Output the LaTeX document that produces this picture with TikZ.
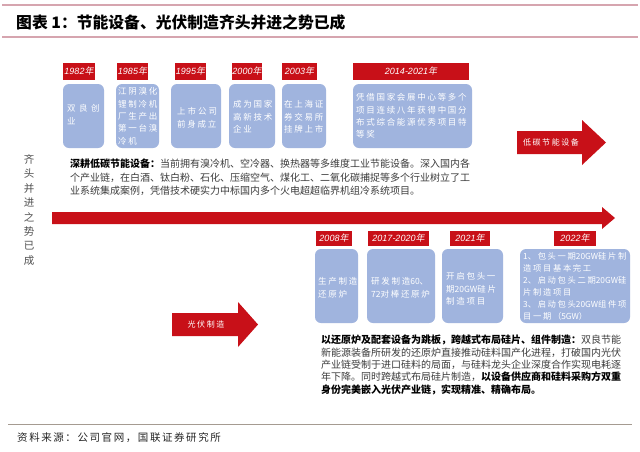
\documentclass[tikz,border=0pt]{standalone}
\usepackage{fontspec}
\setmainfont{Liberation Sans}
\newfontfamily\cjk{Noto Sans CJK SC}
\newfontfamily\cjkw[LetterSpace=20]{Noto Sans CJK SC}
\newfontfamily\cjks[LetterSpace=15]{Noto Sans CJK SC}
\newfontfamily\cjksl[FakeSlant=0.2]{Noto Sans CJK SC}
\newcommand\nospc[1]{{\addfontfeature{LetterSpace=0}#1}}
\newcommand\nianzi{{\cjksl 年}}
\definecolor{myred}{RGB}{200,16,24}
\definecolor{boxblue}{RGB}{160,180,222}
\definecolor{pinkline}{RGB}{214,165,175}
\definecolor{txtgrey}{RGB}{60,60,60}
\definecolor{sidegrey}{RGB}{80,80,80}
\definecolor{footline}{RGB}{165,155,145}
\tikzset{
  yearlab/.style={fill=myred, text=white, inner sep=0pt, font=\fontsize{9}{10}\selectfont\itshape},
  bluebox/.style={fill=boxblue, rounded corners=6pt, inner sep=0pt, draw=none},
  boxtxt/.style={text=white, align=left, inner sep=0pt, anchor=north west, font=\cjkw\fontsize{8.5}{12.3}\selectfont},
  arrowtxt/.style={text=white, inner sep=0pt, font=\cjkw\fontsize{8}{9}\selectfont},
  bodytxt/.style={text=txtgrey, align=left, inner sep=0pt, anchor=north west},
}
\begin{document}
\begin{tikzpicture}[x=1pt,y=-1pt]
\fill[white] (0,0) rectangle (640,451);
\useasboundingbox (0,0) rectangle (640,451);
% header and footer rules
\draw[pinkline, line width=1.2pt] (2,5) -- (638,5);
\draw[pinkline, line width=2pt] (2,37) -- (638,37);
\draw[footline, line width=1pt] (8,424) -- (632,424);
\node[anchor=west, inner sep=0pt, font=\cjk\bfseries\fontsize{15.8}{18}\selectfont] (title) at (16,22) {图表 1：节能设备、光伏制造齐头并进之势已成};
\node[anchor=west, inner sep=0pt, text=black!85, font=\cjks\fontsize{10.5}{12}\selectfont] (source) at (17,438) {资料来源：公司官网，国联证券研究所};
% side text
\node[align=center, inner sep=0pt, text=sidegrey, font=\cjk\fontsize{10.5}{14.4}\selectfont] (side) at (29,210) {齐\\头\\并\\进\\之\\势\\已\\成};
% top year labels
\node[yearlab, minimum width=32pt, minimum height=17pt] (y1) at (79,71.5) {1982\nianzi};
\node[yearlab, minimum width=31pt, minimum height=17pt] (y2) at (132.5,71.5) {1985\nianzi};
\node[yearlab, minimum width=31pt, minimum height=17pt] (y3) at (190.5,71.5) {1995\nianzi};
\node[yearlab, minimum width=30pt, minimum height=17pt] (y4) at (247,71.5) {2000\nianzi};
\node[yearlab, minimum width=35pt, minimum height=17pt] (y5) at (299.5,71.5) {2003\nianzi};
\node[yearlab, minimum width=116pt, minimum height=17pt] (y6) at (411,71.5) {2014-2021\nianzi};
% top boxes
\node[bluebox, minimum width=41pt, minimum height=64pt] (b1) at (83.5,116) {};
\node[bluebox, minimum width=43pt, minimum height=64pt] (b2) at (137.5,116) {};
\node[bluebox, minimum width=50pt, minimum height=64pt] (b3) at (196,116) {};
\node[bluebox, minimum width=46pt, minimum height=64pt] (b4) at (252,116) {};
\node[bluebox, minimum width=44pt, minimum height=64pt] (b5) at (304,116) {};
\node[bluebox, minimum width=119pt, minimum height=64pt] (b6) at (412.5,116) {};
\node[boxtxt] (t1) at (67,104.5) {双\hspace{3.5pt}良\hspace{3.5pt}创\\业};
\node[boxtxt] (t2) at (118,87.5) {江阴溴化\\锂制冷机\\厂生产出\\第一台溴\\冷机};
\node[boxtxt] (t3) at (177,107.5) {上\hspace{2pt}市\hspace{2pt}公\hspace{2pt}司\\前身成立};
\node[boxtxt] (t4) at (233,100.5) {成为国家\\高新技术\\企业};
\node[boxtxt] (t5) at (284,100.5) {在上海证\\券交易所\\挂牌上市};
\node[boxtxt] (t6) at (356,93.5) {凭借国家会展中心等多个\\项目连续八年获得中国分\\布式综合能源优秀项目特\\等奖};
% arrow: low carbon
\fill[myred] (517,131) -- (582,131) -- (582,120) -- (606,142.5) -- (582,165) -- (582,154) -- (517,154) -- cycle;
\node[arrowtxt] (a1) at (551,142.5) {低碳节能设备};
% paragraph 1
\node[bodytxt, font=\cjk\fontsize{10}{13.5}\selectfont] (p1) at (70,159) {{\bfseries\color{black}深耕低碳节能设备：}当前拥有溴冷机、空冷器、换热器等多维度工业节能设备。深入国内各\\个产业链，在白酒、钛白粉、石化、压缩空气、煤化工、二氧化碳捕捉等多个行业树立了工\\业系统集成案例，凭借技术硬实力中标国内多个火电超超临界机组冷系统项目。};
% main arrow
\fill[myred] (52,212) -- (602,212) -- (602,207) -- (615,218) -- (602,229) -- (602,224) -- (52,224) -- cycle;
% bottom year labels
\node[yearlab, minimum width=36pt, minimum height=15pt] (y7) at (334,238.5) {2008\nianzi};
\node[yearlab, minimum width=61pt, minimum height=15pt] (y8) at (398.5,238.5) {2017-2020\nianzi};
\node[yearlab, minimum width=40pt, minimum height=15pt] (y9) at (470,238.5) {2021\nianzi};
\node[yearlab, minimum width=42pt, minimum height=15pt] (y10) at (575,238.5) {2022\nianzi};
% bottom boxes
\node[bluebox, minimum width=43pt, minimum height=74pt] (b7) at (336.5,286) {};
\node[bluebox, minimum width=68pt, minimum height=74pt] (b8) at (401,286) {};
\node[bluebox, minimum width=61pt, minimum height=74pt] (b9) at (472.5,286) {};
\node[bluebox, minimum width=110pt, minimum height=74pt] (b10) at (575,286) {};
\node[boxtxt] (t7) at (318,277.5) {生产制造\\还原炉};
\node[boxtxt] (t8) at (371,277.5) {研发制造\nospc{60}、\\\nospc{72}对棒还原炉};
\node[boxtxt] (t9) at (446,272.5) {开启包头一\\期\nospc{20GW}硅片\\制造项目};
\node[boxtxt, font=\cjkw\fontsize{8.3}{12}\selectfont] (t10) at (523,252.5) {\nospc{1}、包头一期\nospc{20GW}硅片制\\造项目基本完工\\\nospc{2}、启动包头二期\nospc{20GW}硅\\片制造项目\\\nospc{3}、启动包头\nospc{20GW}组件项\\目一期（\nospc{5GW}）};
% arrow: PV
\fill[myred] (172,313) -- (238,313) -- (238,302) -- (258,324.5) -- (238,347) -- (238,336) -- (172,336) -- cycle;
\node[arrowtxt] (a2) at (206,324.5) {光伏制造};
% paragraph 2
\node[bodytxt, font=\cjk\fontsize{10}{12.3}\selectfont] (p2) at (321,335) {{\bfseries\color{black}以还原炉及配套设备为跳板，跨越式布局硅片、组件制造：}双良节能\\新能源装备所研发的还原炉直接推动硅料国产化进程，打破国内光伏\\产业链受制于进口硅料的局面，与硅料龙头企业深度合作实现电耗逐\\年下降。同时跨越式布局硅片制造，{\bfseries\color{black}以设备供应商和硅料采购方双重}\\{\bfseries\color{black}身份完美嵌入光伏产业链，实现精准、精确布局。}};
\end{tikzpicture}
\end{document}
